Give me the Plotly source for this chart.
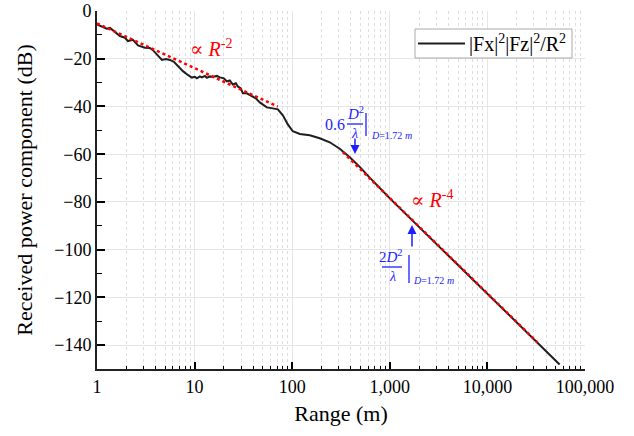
import plotly.graph_objects as go

# ---- data ----
range_m = [1, 1.117, 1.256, 1.358, 1.528, 1.718, 1.936, 2.075, 2.333, 2.63, 3.097, 3.483,
           3.741, 4.207, 4.624, 5.082, 5.585, 6.138, 6.745, 7.586, 8.531, 9.376, 10.07,
           10.57, 11.32, 11.89, 12.74, 13.37, 14.35, 15.38, 16.9, 18.16, 19.95, 21.43,
           22.96, 24.66, 26.49, 27.73, 29.79, 31.19, 34.28, 38.55, 42.36, 46.56, 51.17,
           54.95, 63.24, 71.29, 80.17, 90.16, 101.4, 119.7, 151.4, 191.4, 242.7, 306.9,
           389.0, 492.0, 622.3, 1000, 3162, 10000, 31623, 54954]
power_db = [-5.6, -6.6, -7.4, -7.1, -8.9, -10.5, -11.2, -12.6, -12.1, -14.4, -15.4, -15.5,
            -16.4, -18.9, -20.5, -20.1, -20.5, -21.3, -23.1, -25.2, -26.8, -27.9, -27.6,
            -28.2, -27.4, -27.8, -27.2, -28.0, -27.4, -27.6, -27.2, -27.8, -28.2, -29.5,
            -29.1, -30.8, -30.3, -31.6, -32.4, -34.5, -34.5, -35.8, -36.6, -38.3, -39.5,
            -40.4, -40.8, -41.2, -43.7, -47.5, -50.4, -51.5, -52.1, -53.3, -55.0, -57.7,
            -61.3, -65.3, -69.8, -78.5, -98.5, -118.5, -138.5, -148.1]

fit_r2_range = [1, 71.3]
fit_r2_db = [-5.2, -40.0]
fit_r4_range = [330, 32660]
fit_r4_db = [-59.1, -138.9]

x_tick_vals = [1, 10, 100, 1000, 10000, 100000]
x_tick_text = ["1", "10", "100", "1,000", "10,000", "100,000"]
y_tick_vals = [0, -20, -40, -60, -80, -100, -120, -140]
y_tick_text = ["0", "\u221220", "\u221240", "\u221260", "\u221280", "\u2212100", "\u2212120", "\u2212140"]

legend_label = "|Fx|<sup>2</sup>|Fz|<sup>2</sup>/R<sup>2</sup>"

# ---- layout geometry ----
W, H = 634, 436
L, R, T, B = 97, 49, 11, 67
PW, PH = W - L - R, H - T - B


def pp(px, py):
    return (px - L) / PW, 1 - (py - T) / PH


SERIF = "Times New Roman, Liberation Serif, DejaVu Serif, serif"
BLUE = "rgb(30,30,255)"
RED = "rgb(255,0,0)"

fig = go.Figure()
fig.add_trace(go.Scatter(x=range_m, y=power_db, mode="lines", name=legend_label,
                         showlegend=False, line=dict(color="#1e1e1e", width=2)))
fig.add_trace(go.Scatter(x=fit_r2_range, y=fit_r2_db, mode="lines", showlegend=False,
                         line=dict(color=RED, width=2.5, dash="dot")))
fig.add_trace(go.Scatter(x=fit_r4_range, y=fit_r4_db, mode="lines", showlegend=False,
                         line=dict(color=RED, width=2.5, dash="dot")))

minor_x = [m * 10 ** d for d in range(5) for m in range(2, 10)]
minor_y = [-10, -30, -50, -70, -90, -110, -130, -150]

fig.update_xaxes(type="log", range=[0, 5], tickvals=x_tick_vals, ticktext=x_tick_text,
                 ticks="inside", ticklen=7, tickwidth=1.5, tickcolor="black",
                 showline=True, linecolor="#222", linewidth=1.8, zeroline=False,
                 showgrid=True, gridcolor="#e6e6e6", gridwidth=1,
                 minor=dict(tickvals=minor_x, ticks="inside", ticklen=3.5, tickwidth=1.2,
                            tickcolor="black", showgrid=True, gridcolor="#dedede",
                            griddash="dot", gridwidth=1),
                 tickfont=dict(family=SERIF, size=18, color="black"),
                 title=dict(text="Range (m)", font=dict(family=SERIF, size=22, color="black"),
                            standoff=10))
fig.update_yaxes(range=[-150, 0], tickvals=y_tick_vals, ticktext=y_tick_text,
                 ticks="inside", ticklen=8, tickwidth=1.5, tickcolor="black",
                 showline=True, linecolor="#222", linewidth=1.8, zeroline=False,
                 showgrid=True, gridcolor="#e6e6e6", gridwidth=1,
                 minor=dict(tickvals=minor_y, ticks="inside", ticklen=5, tickwidth=1.2,
                            tickcolor="black", showgrid=False),
                 tickfont=dict(family=SERIF, size=18, color="black"),
                 title=dict(text="Received power component (dB)",
                            font=dict(family=SERIF, size=22, color="black"), standoff=16))

ann = []


def txt(px, py, text, size, color, family=SERIF, anchor="center", vanchor="middle"):
    x, y = pp(px, py)
    ann.append(dict(x=x, y=y, xref="paper", yref="paper", text=text, showarrow=False,
                    xanchor=anchor, yanchor=vanchor, borderpad=0,
                    font=dict(family=family, size=size, color=color)))


def arrow(hx, hy, tx, ty):
    x, y = pp(hx, hy)
    ann.append(dict(x=x, y=y, xref="paper", yref="paper", text="", showarrow=True,
                    ax=tx - hx, ay=ty - hy, axref="pixel", ayref="pixel",
                    arrowhead=2, arrowsize=1.2, arrowwidth=1.5, arrowcolor=BLUE))


txt(211, 48, "∝ <i>R</i><sup>-2</sup>", 20, RED)
txt(432, 199, "∝ <i>R</i><sup>-4</sup>", 20, RED)

txt(335, 125, "0.6", 16, BLUE)
txt(355, 123, "<i>D</i><sup>2</sup>", 15, BLUE, vanchor="bottom")
txt(354, 125, "<i>λ</i>", 14, BLUE, vanchor="top")
txt(370, 135, "<i>D</i>=1.72 <i>m</i>", 10, BLUE, anchor="left")
arrow(355, 154, 355, 137)

txt(391, 266, "2<i>D</i><sup>2</sup>", 15, BLUE, vanchor="bottom")
txt(392, 268, "<i>λ</i>", 14, BLUE, vanchor="top")
txt(412, 280, "<i>D</i>=1.72 <i>m</i>", 10, BLUE, anchor="left")
arrow(412, 225, 412, 248)

shapes = []


def seg(x0, y0, x1, y1, color=BLUE, width=1.3):
    a, b = pp(x0, y0)
    c, d = pp(x1, y1)
    shapes.append(dict(type="line", xref="paper", yref="paper", x0=a, y0=b, x1=c, y1=d,
                       line=dict(color=color, width=width)))


seg(347, 124, 363, 124)
seg(366, 113, 366, 136)
seg(382, 267, 402, 267)
seg(409, 255, 409, 283)

# legend box drawn by hand to match the reference proportions
bx0, by0 = pp(415, 29)
bx1, by1 = pp(572, 58)
shapes.append(dict(type="rect", xref="paper", yref="paper", x0=bx0, y0=by0, x1=bx1, y1=by1,
                   fillcolor="white", line=dict(color="#aaaaaa", width=1), layer="above"))
seg(418, 43.5, 465, 43.5, color="#1e1e1e", width=2)
shapes[-1]["layer"] = "above"
txt(468, 43, legend_label, 20, "black", anchor="left")

fig.update_layout(
    width=W, height=H, margin=dict(l=L, r=R, t=T, b=B, autoexpand=False),
    paper_bgcolor="white", plot_bgcolor="white",
    font=dict(family=SERIF, color="black"),
    showlegend=False,
    annotations=ann, shapes=shapes,
)

fig.write_html("out.html", config={"displayModeBar": False},
               post_script="document.body.style.margin='0px';document.body.style.overflow='hidden';")
